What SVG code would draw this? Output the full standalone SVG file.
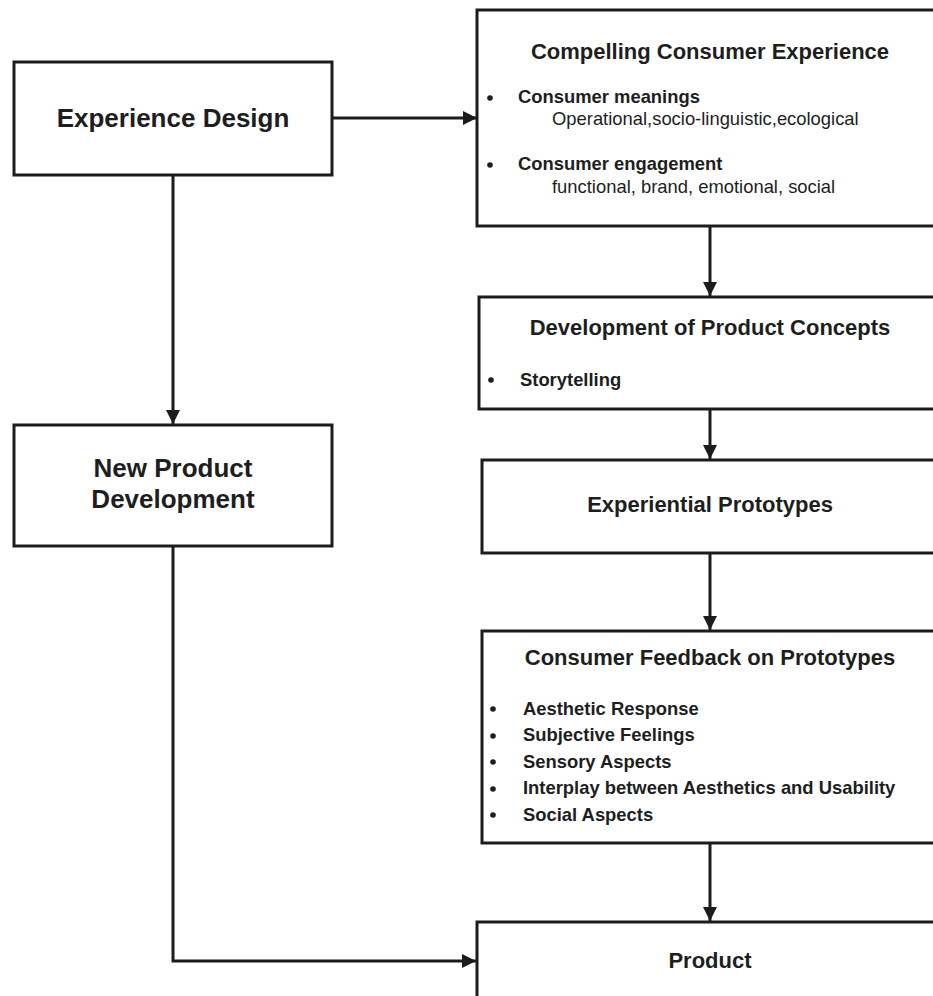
<svg xmlns="http://www.w3.org/2000/svg" width="933" height="996" viewBox="0 0 933 996">
<defs>
<marker id="ah" markerWidth="14" markerHeight="14" refX="14" refY="7" orient="auto" markerUnits="userSpaceOnUse">
<path d="M0,0 L14,7 L0,14 z" fill="#1c1c1c"/>
</marker>
<style>
.box{fill:#fff;stroke:#1c1c1c;stroke-width:3}
.con{fill:none;stroke:#1c1c1c;stroke-width:3;marker-end:url(#ah)}
text{font-family:"Liberation Sans",Arial,sans-serif;fill:#1e1e1e}
.big{font-size:26px;font-weight:bold;text-anchor:middle}
.ttl{font-size:22px;font-weight:bold;text-anchor:middle}
.b{font-size:18.4px;font-weight:bold}
.r{font-size:18.4px}
.dot{fill:#1e1e1e}
</style>
</defs>
<rect width="933" height="996" fill="#fff"/>
<g id="connectors">
<line class="con" x1="333" y1="118" x2="477" y2="118"/>
<line class="con" x1="173" y1="176" x2="173" y2="424"/>
<line class="con" x1="710" y1="227" x2="710" y2="296"/>
<line class="con" x1="710" y1="410" x2="710" y2="459"/>
<line class="con" x1="710" y1="554" x2="710" y2="630"/>
<line class="con" x1="710" y1="844" x2="710" y2="921"/>
<polyline class="con" points="173,547 173,961 476,961"/>
</g>
<g id="experience-design">
<rect class="box" x="14" y="62" width="318" height="113"/>
<text class="big" x="173" y="127">Experience Design</text>
</g>
<g id="compelling-consumer-experience">
<rect class="box" x="477" y="10" width="470" height="216"/>
<text class="ttl" x="710" y="59">Compelling Consumer Experience</text>
<circle class="dot" cx="490" cy="98" r="2.8"/>
<text class="b" x="518" y="103">Consumer meanings</text>
<text class="r" x="552" y="125">Operational,socio-linguistic,ecological</text>
<circle class="dot" cx="490" cy="165" r="2.8"/>
<text class="b" x="518" y="170">Consumer engagement</text>
<text class="r" x="552" y="193">functional, brand, emotional, social</text>
</g>
<g id="new-product-development">
<rect class="box" x="14" y="425" width="318" height="121"/>
<text class="big" x="173" y="477">New Product</text>
<text class="big" x="173" y="508">Development</text>
</g>
<g id="product-concepts">
<rect class="box" x="479" y="297" width="470" height="112"/>
<text class="ttl" x="710" y="335">Development of Product Concepts</text>
<circle class="dot" cx="491" cy="380" r="2.8"/>
<text class="b" x="520" y="386">Storytelling</text>
</g>
<g id="experiential-prototypes">
<rect class="box" x="482" y="460" width="470" height="93"/>
<text class="ttl" x="710" y="512">Experiential Prototypes</text>
</g>
<g id="consumer-feedback">
<rect class="box" x="482" y="631" width="470" height="212"/>
<text class="ttl" x="710" y="665">Consumer Feedback on Prototypes</text>
<circle class="dot" cx="493" cy="709" r="2.8"/>
<text class="b" x="523" y="715">Aesthetic Response</text>
<circle class="dot" cx="493" cy="736" r="2.8"/>
<text class="b" x="523" y="741">Subjective Feelings</text>
<circle class="dot" cx="493" cy="762" r="2.8"/>
<text class="b" x="523" y="768">Sensory Aspects</text>
<circle class="dot" cx="493" cy="789" r="2.8"/>
<text class="b" x="523" y="794">Interplay between Aesthetics and Usability</text>
<circle class="dot" cx="493" cy="815" r="2.8"/>
<text class="b" x="523" y="821">Social Aspects</text>
</g>
<g id="product">
<rect class="box" x="477" y="922" width="470" height="90"/>
<text class="ttl" x="710" y="968">Product</text>
</g>
</svg>
